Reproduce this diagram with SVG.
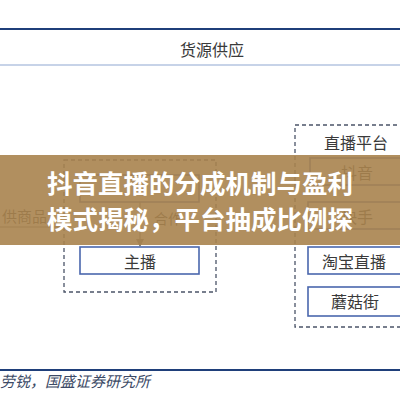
<svg xmlns="http://www.w3.org/2000/svg" width="400" height="400" viewBox="0 0 400 400">
<defs>
<style>
.lbl{font-family:"Noto Sans CJK SC","Noto Sans CJK JP",sans-serif;fill:#3a3a3a;font-size:16px;text-anchor:middle}
.box{fill:#fff;stroke:#4a67ad;stroke-width:1.6}
.grp{fill:none;stroke:#4b5468;stroke-width:1.3;stroke-dasharray:4 3}
.title{font-family:"Noto Sans CJK SC",sans-serif;font-weight:bold;font-size:25.5px;fill:#fff;text-anchor:middle}
</style>
<marker id="ah" markerWidth="8" markerHeight="8" refX="7" refY="4" orient="auto" markerUnits="userSpaceOnUse">
<path d="M0,0 L8,4 L0,8 z" fill="#777"/>
</marker>
</defs>
<rect width="400" height="400" fill="#fff"/>
<g id="header">
<line x1="0" y1="29" x2="400" y2="29" stroke="#1f3f7a" stroke-width="2"/>
<text class="lbl" x="212" y="56" font-size="16">货源供应</text>
<line x1="0" y1="65" x2="400" y2="65" stroke="#c7d3e8" stroke-width="2"/>
</g>
<g id="group-left">
<rect class="grp" x="64" y="160" width="152" height="132"/>
</g>
<g id="group-platform">
<rect class="grp" x="295" y="125" width="120" height="202"/>
<text class="lbl" x="356" y="149">直播平台</text>
</g>
<g id="node-merchant"><rect class="box" x="80" y="175" width="119" height="27"/></g>
<g id="node-anchor"><rect class="box" x="80" y="247" width="119" height="27"/><text class="lbl" x="140" y="268">主播</text></g>
<g id="node-douyin"><rect class="box" x="310" y="158" width="100" height="27"/><text class="lbl" x="357" y="179">抖音</text></g>
<g id="node-kuaishou"><rect class="box" x="308" y="202" width="102" height="27"/><text class="lbl" x="357" y="223">快手</text></g>
<g id="node-taobao"><rect class="box" x="308" y="247" width="102" height="27"/><text class="lbl" x="354" y="268">淘宝直播</text></g>
<g id="node-mogujie"><rect class="box" x="308" y="287" width="102" height="29"/><text class="lbl" x="355" y="308">蘑菇街</text></g>
<g id="connectors">
<line x1="140" y1="202" x2="140" y2="246" stroke="#777" stroke-width="1.2" marker-end="url(#ah)"/>
<text class="lbl" x="168" y="224" font-size="14" style="font-size:14px">合作</text>
<line x1="0" y1="227" x2="63" y2="227" stroke="#777" stroke-width="1"/>
<text class="lbl" x="2" y="222" style="font-size:15px;text-anchor:start">供商品</text>
</g>
<g id="footer">
<line x1="0" y1="370" x2="400" y2="370" stroke="#1f3f7a" stroke-width="2"/>
<text x="0" y="387" font-family="Noto Sans CJK SC,sans-serif" font-style="italic" font-size="15" fill="#3c4a66">劳锐，国盛证券研究所</text>
</g>
<g id="banner">
<rect x="0" y="155" width="400" height="90" fill="#a8834e" opacity="0.9"/>
<text class="title" x="200" y="193">抖音直播的分成机制与盈利</text>
<text class="title" x="200" y="229">模式揭秘，平台抽成比例探</text>
</g>
</svg>
